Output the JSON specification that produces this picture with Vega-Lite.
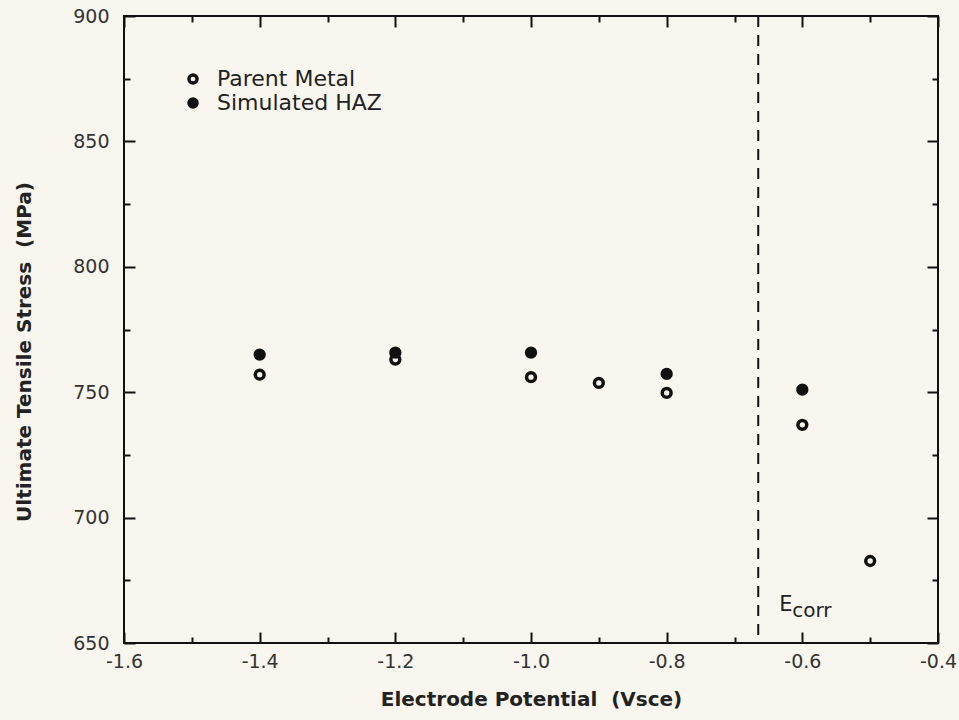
{
  "$schema": "https://vega.github.io/schema/vega-lite/v6.json",
  "width": 814,
  "height": 627,
  "autosize": {"type": "none"},
  "padding": {"left": 124, "top": 16, "right": 21, "bottom": 77},
  "background": "#f8f6ee",
  "config": {
    "view": {"stroke": "#111111", "strokeWidth": 2},
    "font": "DejaVu Sans",
    "axis": {"domain": false, "grid": false, "tickColor": "#111111", "tickWidth": 2, "labelColor": "#333333", "labelFont": "DejaVu Sans", "labelFontSize": 19, "titleFont": "DejaVu Sans", "titleFontWeight": "bold", "titleFontSize": 20, "titleColor": "#222222"}
  },
  "datasets": {
    "points": [
      {"potential": -1.4, "stress": 757, "series": "Parent Metal"},
      {"potential": -1.2, "stress": 763, "series": "Parent Metal"},
      {"potential": -1.0, "stress": 756, "series": "Parent Metal"},
      {"potential": -0.9, "stress": 753.7, "series": "Parent Metal"},
      {"potential": -0.8, "stress": 749.7, "series": "Parent Metal"},
      {"potential": -0.6, "stress": 737, "series": "Parent Metal"},
      {"potential": -0.5, "stress": 682.7, "series": "Parent Metal"},
      {"potential": -1.4, "stress": 765, "series": "Simulated HAZ"},
      {"potential": -1.2, "stress": 765.8, "series": "Simulated HAZ"},
      {"potential": -1.0, "stress": 765.8, "series": "Simulated HAZ"},
      {"potential": -0.8, "stress": 757.3, "series": "Simulated HAZ"},
      {"potential": -0.6, "stress": 751, "series": "Simulated HAZ"}
    ],
    "ecorr": [{"potential": -0.665}],
    "labels": [
      {"potential": -0.634, "stress": 662.8, "text": "E"}
    ],
    "sub": [
      {"potential": -0.615, "stress": 660.4, "text": "corr"}
    ]
  },
  "layer": [
    {
      "data": {"name": "ecorr"},
      "mark": {"type": "rule", "color": "#111111", "strokeWidth": 2, "strokeDash": [11, 8]},
      "encoding": {
        "x": {"field": "potential", "type": "quantitative", "scale": {"domain": [-1.6, -0.4], "nice": false, "zero": false},
          "axis": {"orient": "bottom", "title": "Electrode Potential\u00a0 (Vsce)",
            "values": [-1.6, -1.5, -1.4, -1.3, -1.2, -1.1, -1.0, -0.9, -0.8, -0.7, -0.6, -0.5, -0.4],
            "labelExpr": "round(datum.value*10) % 2 == 0 ? '-' + format(abs(datum.value), '.1f') : ''",
            "tickSize": {"condition": {"test": "round(datum.value*10) % 2 == 0", "value": -11}, "value": -6},
            "labelPadding": 20, "labelFlush": false,
            "titleY": 62, "titleBaseline": "alphabetic"}}
      }
    },
    {
      "data": {"name": "points"},
      "mark": {"type": "point", "filled": true, "size": 78, "strokeWidth": 3.5, "opacity": 1, "shape": "circle"},
      "encoding": {
        "x": {"field": "potential", "type": "quantitative", "scale": {"domain": [-1.6, -0.4], "nice": false, "zero": false},
          "axis": {"orient": "top", "title": null, "labels": false,
            "values": [-1.6, -1.5, -1.4, -1.3, -1.2, -1.1, -1.0, -0.9, -0.8, -0.7, -0.6, -0.5, -0.4],
            "tickSize": {"condition": {"test": "round(datum.value*10) % 2 == 0", "value": -11}, "value": -6}}},
        "y": {"field": "stress", "type": "quantitative", "scale": {"domain": [650, 900], "nice": false, "zero": false},
          "axis": {"orient": "left", "title": "Ultimate Tensile Stress\u00a0 (MPa)",
            "values": [650, 675, 700, 725, 750, 775, 800, 825, 850, 875, 900],
            "labelExpr": "datum.value % 50 == 0 ? datum.label : ''",
            "tickSize": {"condition": {"test": "datum.value % 50 == 0", "value": -11}, "value": -6},
            "labelPadding": 26,
            "titleX": -100, "titleY": 335.5, "titleBaseline": "middle", "titleAngle": -90}},
        "fill": {"field": "series", "type": "nominal", "scale": {"domain": ["Parent Metal", "Simulated HAZ"], "range": ["#f8f6ee", "#111111"]},
          "legend": {"title": null, "orient": "none", "legendX": 58, "legendY": 52, "padding": 0, "labelFont": "DejaVu Sans", "labelFontSize": 22, "labelColor": "#222222", "labelLimit": 400, "symbolSize": 66, "symbolStrokeWidth": 3.4, "labelOffset": 13, "rowPadding": 2, "symbolType": "circle"}},
        "stroke": {"field": "series", "type": "nominal", "scale": {"domain": ["Parent Metal", "Simulated HAZ"], "range": ["#111111", "#111111"]},
          "legend": {"title": null, "orient": "none", "legendX": 58, "legendY": 52, "padding": 0, "labelFont": "DejaVu Sans", "labelFontSize": 22, "labelColor": "#222222", "labelLimit": 400, "symbolSize": 66, "symbolStrokeWidth": 3.4, "labelOffset": 13, "rowPadding": 2, "symbolType": "circle"}}
      }
    },
    {
      "data": {"name": "labels"},
      "mark": {"type": "text", "align": "left", "baseline": "alphabetic", "fontSize": 21, "color": "#222222", "font": "DejaVu Sans"},
      "encoding": {
        "x": {"field": "potential", "type": "quantitative", "scale": {"domain": [-1.6, -0.4], "nice": false, "zero": false}, "axis": null},
        "y": {"field": "stress", "type": "quantitative", "scale": {"domain": [650, 900], "nice": false, "zero": false},
          "axis": {"orient": "right", "title": null, "labels": false,
            "values": [650, 675, 700, 725, 750, 775, 800, 825, 850, 875, 900],
            "tickSize": {"condition": {"test": "datum.value % 50 == 0", "value": -11}, "value": -6}}},
        "text": {"field": "text"}
      }
    },
    {
      "data": {"name": "sub"},
      "mark": {"type": "text", "align": "left", "baseline": "alphabetic", "fontSize": 20, "color": "#222222", "font": "DejaVu Sans"},
      "encoding": {
        "x": {"field": "potential", "type": "quantitative", "scale": {"domain": [-1.6, -0.4], "nice": false, "zero": false}, "axis": null},
        "y": {"field": "stress", "type": "quantitative", "scale": {"domain": [650, 900], "nice": false, "zero": false}, "axis": null},
        "text": {"field": "text"}
      }
    }
  ],
  "resolve": {"axis": {"x": "independent", "y": "independent"}}
}
